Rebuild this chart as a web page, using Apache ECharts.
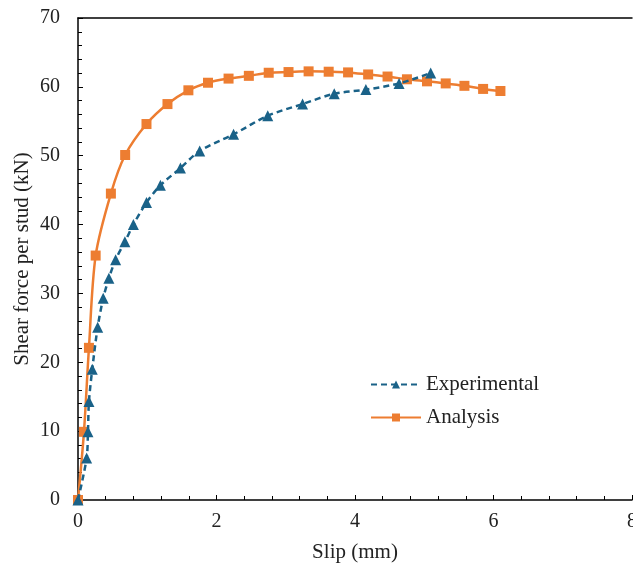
<!DOCTYPE html>
<html>
<head>
<meta charset="utf-8">
<script src="https://cdn.jsdelivr.net/npm/echarts@6/dist/echarts.min.js"></script>
<style>html,body{margin:0;padding:0;background:#fff}#c{width:633px;height:564px}</style>
</head>
<body>
<div id="c"></div>
<script>
const seriesNames = ['Experimental', 'Analysis'];
const expSlip = [0, 0.125, 0.144, 0.158, 0.206, 0.284, 0.364, 0.446, 0.543, 0.677, 0.80, 0.989, 1.19, 1.479, 1.757, 2.246, 2.74, 3.243, 3.70, 4.157, 4.636, 5.093];
const expForce = [0, 6.1, 9.9, 14.3, 19.0, 25.1, 29.3, 32.2, 34.9, 37.5, 40.0, 43.2, 45.7, 48.2, 50.7, 53.1, 55.8, 57.5, 59.0, 59.6, 60.5, 62.0];
const anaSlip = [0, 0.086, 0.158, 0.255, 0.475, 0.681, 0.989, 1.292, 1.594, 1.877, 2.174, 2.467, 2.754, 3.04, 3.33, 3.62, 3.90, 4.19, 4.47, 4.75, 5.04, 5.31, 5.58, 5.85, 6.10];
const anaForce = [0, 9.9, 22.1, 35.5, 44.5, 50.1, 54.6, 57.5, 59.5, 60.6, 61.2, 61.6, 62.05, 62.15, 62.25, 62.2, 62.1, 61.8, 61.5, 61.1, 60.8, 60.5, 60.15, 59.7, 59.4];
const xTicks = [0, 2, 4, 6, 8];
const yTicks = [0, 10, 20, 30, 40, 50, 60, 70];

const font = 'Liberation Serif';
const blue = '#1a6288';
const orange = '#ed7d31';
const pair = (xs, ys) => xs.map((x, i) => [x, ys[i]]);

const chart = echarts.init(document.getElementById('c'));
chart.setOption({
  animation: false,
  grid: { left: 78, right: 1, top: 18, bottom: 64, containLabel: false, outerBoundsMode: 'none' },
  legend: {
    orient: 'vertical', left: 365, top: 369, itemWidth: 50, itemHeight: 10, itemGap: 12,
    textStyle: { fontFamily: font, fontSize: 21, color: '#222' },
    data: seriesNames
  },
  xAxis: [{
    type: 'value', min: xTicks[0], max: xTicks[xTicks.length - 1], interval: 2,
    name: 'Slip (mm)', nameLocation: 'middle', nameGap: 42, nameMoveOverlap: false,
    nameTextStyle: { fontFamily: font, fontSize: 21, color: '#222' },
    axisLine: { lineStyle: { color: '#000', width: 1.5 } },
    axisTick: { inside: true, length: 5, lineStyle: { color: '#000' } },
    minorTick: { show: true, splitNumber: 5, length: 4, lineStyle: { color: '#000' } },
    axisLabel: { fontFamily: font, fontSize: 20, color: '#222', margin: 12 },
    splitLine: { show: false }
  }, {
    type: 'value', position: 'top', min: 0, max: 8,
    axisLine: { show: true, onZero: false, lineStyle: { color: '#000', width: 1.5 } },
    axisTick: { show: false }, axisLabel: { show: false }, splitLine: { show: false }
  }],
  yAxis: {
    type: 'value', min: yTicks[0], max: yTicks[yTicks.length - 1], interval: 10,
    name: 'Shear force per stud (kN)', nameLocation: 'middle', nameGap: 45, nameMoveOverlap: false,
    nameTextStyle: { fontFamily: font, fontSize: 21, color: '#222' },
    axisLine: { show: true, lineStyle: { color: '#000', width: 1.5 } },
    axisTick: { inside: true, length: 5, lineStyle: { color: '#000' } },
    minorTick: { show: true, splitNumber: 5, length: 4, lineStyle: { color: '#000' } },
    axisLabel: { fontFamily: font, fontSize: 20, color: '#222', margin: 18 },
    splitLine: { show: false }
  },
  series: [{
    name: seriesNames[0], type: 'line', smooth: 0.3,
    data: pair(expSlip, expForce),
    symbol: 'triangle', symbolSize: 11,
    lineStyle: { color: blue, width: 2.5, type: [6, 4] },
    itemStyle: { color: blue },
    z: 3
  }, {
    name: seriesNames[1], type: 'line', smooth: 0.3,
    data: pair(anaSlip, anaForce),
    symbol: 'rect', symbolSize: 10,
    lineStyle: { color: orange, width: 2.5 },
    itemStyle: { color: orange },
    z: 2
  }]
});
</script>
</body>
</html>
